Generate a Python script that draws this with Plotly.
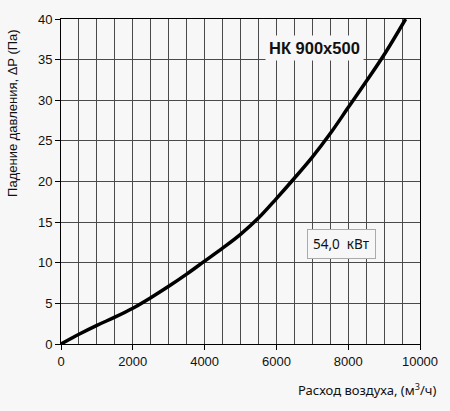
import plotly.graph_objects as go

flow = [0, 500, 1000, 1500, 2000, 2500, 3000, 3500, 4000, 4500, 5000, 5500, 6000, 6500, 7000, 7500, 8000, 8500, 9000, 9600]
dp = [0, 1.2, 2.3, 3.3, 4.4, 5.7, 7.1, 8.6, 10.2, 11.8, 13.5, 15.5, 17.9, 20.4, 23.0, 25.9, 29.1, 32.3, 35.6, 40.0]

x_ticks = [0, 2000, 4000, 6000, 8000, 10000]
y_ticks = [0, 5, 10, 15, 20, 25, 30, 35, 40]

title_text = "НК 900x500"
power_text = "54,0  кВт"
x_title = "Расход воздуха, (м<sup>3</sup>/ч)"
y_title = "Падение давления, ΔP (Па)"

bg = "#f7f7f7"
grid = "#4a4a4a"

fig = go.Figure()
fig.add_trace(go.Scatter(x=flow, y=dp, mode="lines",
                         line=dict(color="black", width=3.5, shape="spline", smoothing=1.0),
                         hoverinfo="skip", showlegend=False))

fig.update_layout(
    width=450, height=411,
    margin=dict(l=61, r=22, t=19, b=67),
    paper_bgcolor=bg, plot_bgcolor=bg,
    font=dict(family="Liberation Sans, Arial", size=13, color="#111"),
    showlegend=False,
)
fig.update_xaxes(
    range=[0, 10000], tickvals=x_ticks, ticktext=[str(v) for v in x_ticks],
    showgrid=True, gridcolor=grid, gridwidth=1,
    minor=dict(dtick=500, showgrid=True, gridcolor=grid, gridwidth=1),
    ticks="outside", ticklen=5, tickcolor="black",
    showline=True, linecolor="black", linewidth=1, mirror=True,
    zeroline=False, fixedrange=True,
)
fig.update_yaxes(
    range=[0, 40], tickvals=y_ticks, ticktext=[str(v) for v in y_ticks],
    showgrid=True, gridcolor=grid, gridwidth=1,
    ticks="outside", ticklen=5, tickcolor="black",
    showline=True, linecolor="black", linewidth=1, mirror=True,
    zeroline=False, fixedrange=True,
)

fig.add_annotation(text=f"<b>{title_text}</b>", xref="x", yref="y", x=7060, y=36.37,
                   showarrow=False, font=dict(family="Liberation Sans, Arial", size=16.5, color="#111"),
                   bgcolor=bg, borderpad=3)
fig.add_annotation(text=power_text, xref="x", yref="y", x=7820, y=12.3,
                   showarrow=False, font=dict(family="Noto Sans", size=13.5, color="#111"),
                   bgcolor=bg, bordercolor="#aaaaaa", borderwidth=1, borderpad=5)
fig.add_annotation(text=x_title, xref="paper", yref="paper", x=1.049, y=-0.104,
                   xanchor="right", yanchor="top", showarrow=False,
                   font=dict(family="Noto Sans", size=13, color="#111"))
fig.add_annotation(text=y_title, xref="paper", yref="paper", x=-0.137, y=0.975,
                   xanchor="center", yanchor="top", textangle=-90, showarrow=False,
                   font=dict(family="Liberation Sans, Arial", size=13, color="#111"))

fig.write_html("out.html", config={"displayModeBar": False},
               post_script="document.body.style.margin='0';document.body.style.background='#f7f7f7';")
